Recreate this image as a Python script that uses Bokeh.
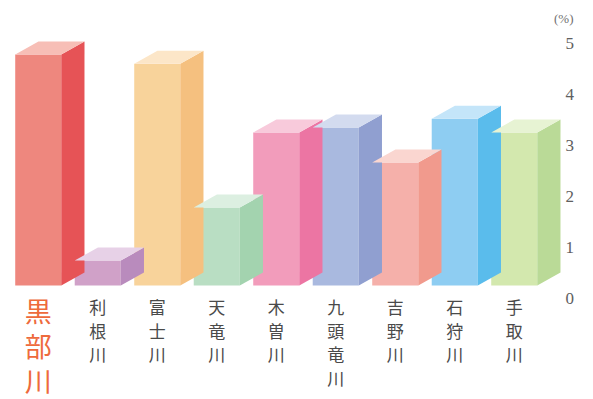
from bokeh.plotting import figure
from bokeh.models import ColumnDataSource, Range1d, LinearAxis, FixedTicker
from bokeh.core.properties import value
from bokeh.embed import file_html
from bokeh.resources import INLINE

# ---- data ----
rivers = ["黒部川", "利根川", "富士川", "天竜川", "木曽川", "九頭竜川", "吉野川", "石狩川", "手取川"]
values = [4.53, 0.49, 4.35, 1.53, 3.0, 3.1, 2.41, 3.27, 3.0]
highlight = "黒部川"
y_ticks = [0, 1, 2, 3, 4, 5]
unit_label = "(%)"

# ---- styles ----
front_colors = ["#EE877E", "#D0A1C8", "#F8D39B", "#B9DEC3", "#F29CBB", "#A9B9DF", "#F5B0AA", "#8ECDF2", "#D3E8AE"]
side_colors = ["#E65356", "#B98BBD", "#F5C07F", "#A3D3AF", "#EC75A3", "#909FD0", "#F19A8D", "#5ABCEC", "#BADA97"]
top_colors = ["#F7BEB6", "#E7D1E7", "#FCE6C8", "#DCEFE1", "#F8CADB", "#D3DBEF", "#FAD6D0", "#C4E5F9", "#E7F3D3"]

half_w = 0.387   # half width of front face (x units)
dx = 0.39        # depth offset in x
dy = 0.255       # depth offset in y

p = figure(frame_width=562, frame_height=369, output_backend="svg", toolbar_location=None,
           x_range=Range1d(-0.6345, 8.811), y_range=Range1d(-2.235, 5.0),
           min_border_left=0, min_border_top=30, min_border_bottom=0, min_border_right=0,
           background_fill_color="white", border_fill_color="white", outline_line_color=None,
           title=unit_label)
p.title.align = "right"
p.title.offset = -11
p.title.standoff = 9
p.title.text_font = "Liberation Sans Narrow"
p.title.text_font_size = "13px"
p.title.text_font_style = "normal"
p.title.text_color = "#707070"
p.xaxis.visible = False
p.yaxis.visible = False
p.xgrid.visible = False
p.ygrid.visible = False

xs_idx = list(range(len(rivers)))
front = ColumnDataSource(dict(left=[i - half_w for i in xs_idx], right=[i + half_w for i in xs_idx],
                              top=values, bottom=[0] * len(values), color=front_colors))
p.quad(left="left", right="right", top="top", bottom="bottom", fill_color="color",
       line_color=None, source=front)

side_xs, side_ys, top_xs, top_ys = [], [], [], []
for i, v in zip(xs_idx, values):
    xr = i + half_w
    xl = i - half_w
    side_xs.append([xr, xr + dx, xr + dx, xr])
    side_ys.append([0, dy, v + dy, v])
    top_xs.append([xl, xl + dx, xr + dx, xr])
    top_ys.append([v, v + dy, v + dy, v])
p.patches(xs="xs", ys="ys", fill_color="color", line_color=None,
          source=ColumnDataSource(dict(xs=side_xs, ys=side_ys, color=side_colors)))
p.patches(xs="xs", ys="ys", fill_color="color", line_color=None,
          source=ColumnDataSource(dict(xs=top_xs, ys=top_ys, color=top_colors)))

# vertical category labels (one character per row)
cx, cy, ct, coff, csize, ccol = [], [], [], [], [], []
for i, name in enumerate(rivers):
    hi = name == highlight
    pitch = 35 if hi else 23.5
    first = 25 if hi else 21
    for j, ch in enumerate(name):
        cx.append(i)
        cy.append(0)
        ct.append(ch)
        coff.append(first + j * pitch)
        csize.append("27px" if hi else "17px")
        ccol.append("#EE6A3C" if hi else "#4A4A4A")
p.text(x="x", y="y", text="t", y_offset="off", text_font_size="size", text_color="col",
       text_align="center", text_baseline="middle", text_font=value("Noto Sans CJK JP"),
       source=ColumnDataSource(dict(x=cx, y=cy, t=ct, off=coff, size=csize, col=ccol)))

# right axis, offset from the bar base as in the original graphic
p.extra_y_ranges = {"axis": Range1d(-1.980, 5.255)}
ax = LinearAxis(y_range_name="axis", ticker=FixedTicker(ticks=y_ticks))
ax.axis_line_color = None
ax.major_tick_line_color = None
ax.minor_tick_line_color = None
ax.major_label_standoff = -3
ax.major_label_text_font = "Liberation Sans Narrow"
ax.major_label_text_font_size = "17px"
ax.major_label_text_color = "#606060"
p.add_layout(ax, "right")

open("out.html", "w").write(file_html(p, INLINE))
